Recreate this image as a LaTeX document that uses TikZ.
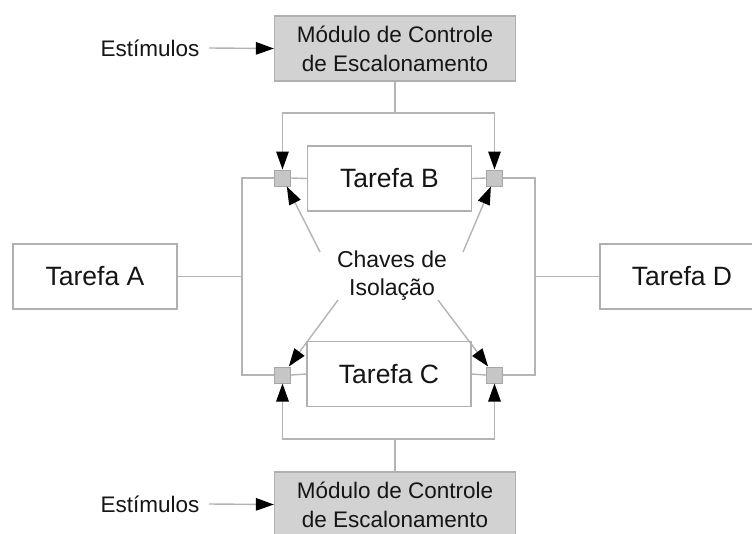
\documentclass[tikz,border=0pt]{standalone}
\usepackage{fontspec}
\setmainfont{Liberation Sans}
\usetikzlibrary{arrows.meta}
\definecolor{wire}{HTML}{B4B4B4}
\definecolor{frame}{HTML}{B0B0B0}
\definecolor{modfill}{HTML}{D2D2D2}
\definecolor{keyfill}{HTML}{C6C6C6}
\definecolor{keyline}{HTML}{A6A6A6}
\definecolor{ink}{HTML}{151515}
\tikzset{
  task/.style={draw=frame, line width=1.3pt, fill=white, minimum width=164pt, minimum height=65pt,
    inner sep=0pt, text=ink, font=\fontsize{26.5}{30}\selectfont},
  module/.style={draw=frame, line width=1.3pt, fill=modfill, minimum width=241pt, minimum height=65pt,
    inner sep=0pt, align=center, text=ink, font=\fontsize{22.5}{29}\selectfont},
  keybox/.style={draw=keyline, line width=1pt, fill=keyfill, minimum size=16pt, inner sep=0pt},
  label/.style={text=ink, inner sep=0pt, align=center},
  wireline/.style={draw=wire, line width=1.4pt},
  arr/.style={wireline, -{Triangle[color=black, fill=black, length=18pt, width=12.5pt]}},
}
\begin{document}
\begin{tikzpicture}[x=1pt, y=-1pt]
  \useasboundingbox (0,0) rectangle (752,533);
  \fill[white] (0,0) rectangle (752,533);
  \path[clip] (0,0) rectangle (752,533);

  % task boxes
  \node[task] (ta) at (95,276.5) {Tarefa A};
  \node[task] (tb) at (389.5,178.5) {Tarefa B};
  \node[task] (tc) at (389,374) {Tarefa C};
  \node[task] (td) at (682,276.5) {Tarefa D};

  % scheduling control modules
  \node[module] (mtop) at (395,48.5) {Módulo de Controle\\de Escalonamento};
  \node[module] (mbot) at (395,504.5) {Módulo de Controle\\de Escalonamento};

  % isolation switches
  \node[keybox] (kbl) at (282.5,178) {};
  \node[keybox] (kbr) at (494.5,178) {};
  \node[keybox] (kcl) at (282.5,375) {};
  \node[keybox] (kcr) at (494.5,375) {};

  % labels
  \node[label, font=\fontsize{22.5}{28}\selectfont] (st1) at (150,48) {Estímulos};
  \node[label, font=\fontsize{22.5}{28}\selectfont] (st2) at (150,504) {Estímulos};
  \node[label, font=\fontsize{23}{28}\selectfont] (iso) at (392,276) {Chaves de\\Isolação};

  % junctions and bus corners
  \coordinate (jt) at (395,113);
  \coordinate (jb) at (395,439);
  \coordinate (lb) at (242,178);
  \coordinate (lc) at (242,375);
  \coordinate (la) at (242,276.5);
  \coordinate (rb) at (535,178);
  \coordinate (rc) at (535,375);
  \coordinate (ra) at (535,276.5);
  \coordinate (s1) at (209,48);
  \coordinate (s2) at (209,504);

  % stimuli into the modules
  \draw[arr] (s1) -- (mtop.west);
  \draw[arr] (s2) -- (mbot.west);

  % control lines to the switches
  \draw[wireline] (mtop.south) -- (jt);
  \draw[arr] (jt) -| (kbl.north);
  \draw[arr] (jt) -| (kbr.north);
  \draw[wireline] (mbot.north) -- (jb);
  \draw[arr] (jb) -| (kcl.south);
  \draw[arr] (jb) -| (kcr.south);

  % data paths through the switches
  \draw[wireline] (kbl.east) -- (tb.west);
  \draw[wireline] (tb.east) -- (kbr.west);
  \draw[wireline] (kcl.east) -- (tc.west);
  \draw[wireline] (tc.east) -- (kcr.west);
  \draw[wireline] (kbl.west) -- (lb) -- (lc) -- (kcl.west);
  \draw[wireline] (kbr.east) -- (rb) -- (rc) -- (kcr.east);
  \draw[wireline] (ta.east) -- (la);
  \draw[wireline] (td.west) -- (ra);

  % pointers from the label to the switches
  \coordinate (p1) at (320,252);
  \coordinate (p2) at (463,252);
  \coordinate (p3) at (338,300);
  \coordinate (p4) at (438,300);
  \draw[arr] (p1) -- (kbl);
  \draw[arr] (p2) -- (kbr);
  \draw[arr] (p3) -- (kcl);
  \draw[arr] (p4) -- (kcr);
\end{tikzpicture}
\end{document}
